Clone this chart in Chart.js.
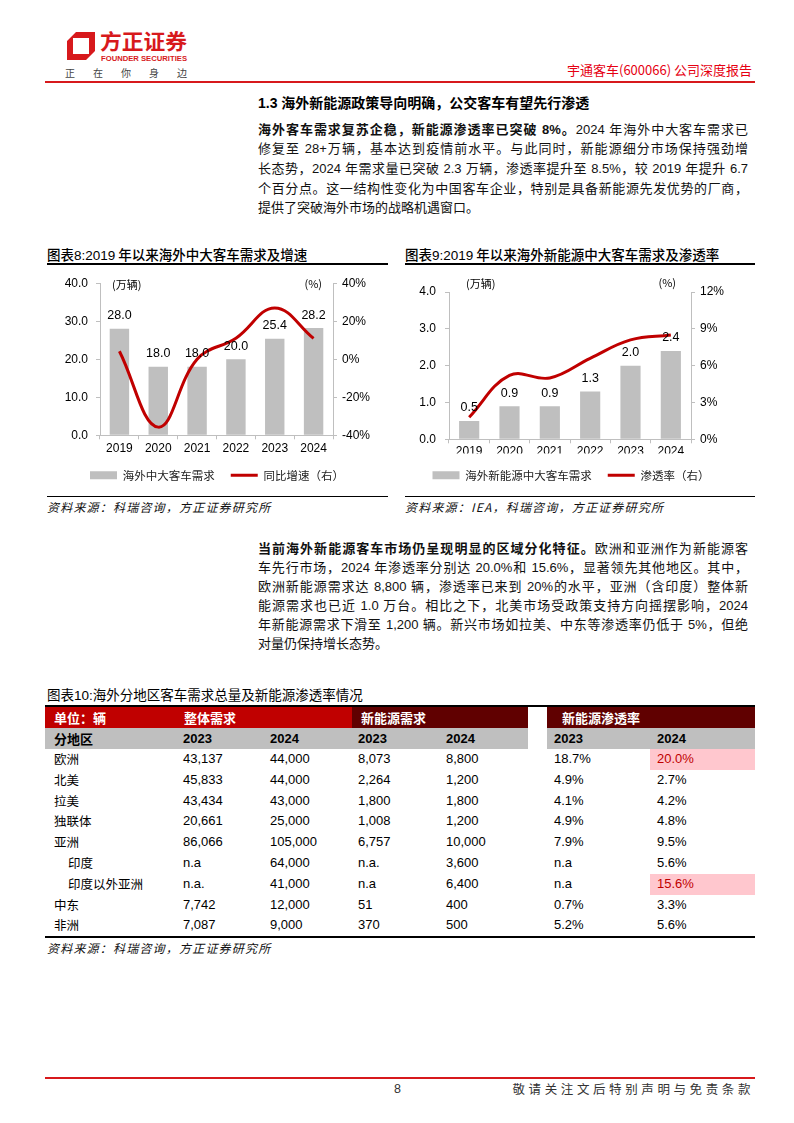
<!DOCTYPE html>
<html lang="zh-CN">
<head>
<meta charset="utf-8">
<title>宇通客车(600066) 公司深度报告</title>
<script src="https://cdn.jsdelivr.net/npm/chart.js@4.4.1/dist/chart.umd.min.js"></script>
<style>
  html, body { margin: 0; padding: 0; background: #fff; }
  #page { position: relative; width: 794px; height: 1123px; overflow: hidden;
    font-family: "Liberation Sans", Arial, "Noto Sans CJK SC", sans-serif; color: #111; }
  .abs { position: absolute; white-space: nowrap; }
  .rule { position: absolute; }
  .para { position: absolute; left: 258px; width: 490px; height: 19.5px; line-height: 19.5px;
    font-size: 13px; text-align: justify; text-align-last: justify; overflow: hidden; }
  .para.last { text-align-last: left; }
  .para b { font-weight: bold; }
  .ctitle { font-family: "Noto Sans CJK SC", sans-serif; font-size: 13.5px; font-weight: 500;
    height: 20px; line-height: 20px; color: #000; }
  .ctitle span { font-family: "Liberation Sans", Arial, sans-serif; }
  .src { font-family: "Noto Sans CJK SC", sans-serif; font-size: 12px; font-style: italic;
    letter-spacing: 1.2px; height: 18px; line-height: 18px; color: #111; }
  canvas { position: absolute; }
</style>
</head>
<body>
<div id="page">
  <!-- header -->
  <svg class="abs" style="left:0;top:0" width="794" height="90">
    <path d="M76 32 H95 V51 L86 60 H67 V41 Z M73 38 V54 H89 V38 Z" fill="#d7191c" fill-rule="evenodd"/>
    <text x="100" y="49" font-size="21" font-weight="bold" fill="#d7191c" textLength="87" lengthAdjust="spacingAndGlyphs" font-family="Noto Sans CJK SC">方正证券</text>
    <text x="101" y="61" font-size="8" font-weight="bold" fill="#d7191c" textLength="86" lengthAdjust="spacingAndGlyphs" font-family="Liberation Sans">FOUNDER SECURITIES</text>
    <text x="65" y="77" font-size="10" fill="#444" textLength="122" font-family="Noto Sans CJK SC">正在你身边</text>
  </svg>
  <div class="abs" style="right:42px;top:61px;height:18px;line-height:18px;font-size:13px;color:#e60012;font-family:'Noto Sans CJK SC',sans-serif;">宇通客车(600066) 公司深度报告</div>
  <div class="rule" style="left:45px;top:81px;width:710px;height:1.5px;background:#d7191c;"></div>

  <!-- section 1.3 -->
  <div class="abs" style="left:258px;top:93px;height:20px;line-height:20px;font-size:14px;font-weight:bold;color:#000;">1.3 海外新能源政策导向明确，公交客车有望先行渗透</div>
  <div class="para" style="top:119.75px"><b>海外客车需求复苏企稳，新能源渗透率已突破 8%。</b>2024 年海外中大客车需求已</div>
  <div class="para" style="top:139.35px">修复至 28+万辆，基本达到疫情前水平。与此同时，新能源细分市场保持强劲增</div>
  <div class="para" style="top:158.95px">长态势，2024 年需求量已突破 2.3 万辆，渗透率提升至 8.5%，较 2019 年提升 6.7</div>
  <div class="para" style="top:178.55px">个百分点。这一结构性变化为中国客车企业，特别是具备新能源先发优势的厂商，</div>
  <div class="para last" style="top:198.15px">提供了突破海外市场的战略机遇窗口。</div>

  <!-- chart titles -->
  <div class="abs ctitle" style="left:47px;top:244px;">图表<span>8:2019</span> 年以来海外中大客车需求及增速</div>
  <div class="rule" style="left:47px;top:263px;width:341px;height:2px;background:#000;"></div>
  <div class="abs ctitle" style="left:405px;top:244px;">图表<span>9:2019</span> 年以来海外新能源中大客车需求及渗透率</div>
  <div class="rule" style="left:405px;top:263px;width:350px;height:2px;background:#000;"></div>

  <canvas id="chart8" width="343" height="223" style="left:47px;top:268px;"></canvas>
  <canvas id="chart9" width="350" height="223" style="left:405px;top:268px;"></canvas>

  <div class="rule" style="left:47px;top:495.5px;width:341px;height:1.3px;background:#000;"></div>
  <div class="rule" style="left:405px;top:495.5px;width:350px;height:1.3px;background:#000;"></div>
  <div class="abs src" style="left:47px;top:498px;">资料来源：科瑞咨询，方正证券研究所</div>
  <div class="abs src" style="left:405px;top:498px;">资料来源：IEA，科瑞咨询，方正证券研究所</div>

  <!-- second paragraph -->
  <div class="para" style="top:539.25px"><b>当前海外新能源客车市场仍呈现明显的区域分化特征。</b>欧洲和亚洲作为新能源客</div>
  <div class="para" style="top:558.25px">车先行市场，2024 年渗透率分别达 20.0%和 15.6%，显著领先其他地区。其中，</div>
  <div class="para" style="top:577.25px">欧洲新能源需求达 8,800 辆，渗透率已来到 20%的水平，亚洲（含印度）整体新</div>
  <div class="para" style="top:596.25px">能源需求也已近 1.0 万台。相比之下，北美市场受政策支持方向摇摆影响，2024</div>
  <div class="para" style="top:615.25px">年新能源需求下滑至 1,200 辆。新兴市场如拉美、中东等渗透率仍低于 5%，但绝</div>
  <div class="para last" style="top:634.25px">对量仍保持增长态势。</div>

  <!-- table 10 -->
  <div class="abs ctitle" style="left:47px;top:684px;font-weight:normal;">图表<span>10:</span>海外分地区客车需求总量及新能源渗透率情况</div>
  <div class="abs src" style="left:47px;top:939px;">资料来源：科瑞咨询，方正证券研究所</div>

  <!-- footer -->
  <div class="rule" style="left:45px;top:1077px;width:710px;height:1.5px;background:#d7191c;"></div>
  <div class="abs" style="left:394px;top:1080px;height:18px;line-height:18px;font-size:12.5px;color:#333;">8</div>
  <div class="abs" style="right:40px;top:1080px;height:18px;line-height:18px;font-size:12.5px;letter-spacing:3.6px;color:#333;font-family:'Noto Sans CJK SC',sans-serif;">敬请关注文后特别声明与免责条款</div>
</div>

<script>
// chart 8 / chart 9 values (万辆, %)
var years = ["2019", "2020", "2021", "2022", "2023", "2024"];
var busDemand = [28.0, 18.0, 18.0, 20.0, 25.4, 28.2];
var busGrowth = [4.2, -35.7, 0.0, 11.1, 27.0, 11.0];
var nevDemand = [0.5, 0.9, 0.9, 1.3, 2.0, 2.4];
var nevShare = [1.8, 5.2, 5.0, 6.6, 8.1, 8.5];

// table 10
var regions = ["欧洲", "北美", "拉美", "独联体", "亚洲", "印度", "印度以外亚洲", "中东", "非洲"];
var subRegion = [false, false, false, false, false, true, true, false, false];
var total2023 = ["43,137", "45,833", "43,434", "20,661", "86,066", "n.a", "n.a.", "7,742", "7,087"];
var total2024 = ["44,000", "44,000", "43,000", "25,000", "105,000", "64,000", "41,000", "12,000", "9,000"];
var nev2023 = ["8,073", "2,264", "1,800", "1,008", "6,757", "n.a.", "n.a", "51", "370"];
var nev2024 = ["8,800", "1,200", "1,800", "1,200", "10,000", "3,600", "6,400", "400", "500"];
var share2023 = ["18.7%", "4.9%", "4.1%", "4.9%", "7.9%", "n.a", "n.a", "0.7%", "5.2%"];
var share2024 = ["20.0%", "2.7%", "4.2%", "4.8%", "9.5%", "5.6%", "15.6%", "3.3%", "5.6%"];
var highlight = [true, false, false, false, false, false, true, false, false];

(function() {

  "use strict";

  var page = document.getElementById("page");
  var cjk = '"Noto Sans CJK SC", sans-serif';

  function box(x, top, w, h, color) {
    var d = document.createElement("div");
    d.className = "rule";
    d.style.cssText = "left:" + x + "px;top:" + top + "px;width:" + w + "px;height:" + h + "px;background:" + color + ";";
    page.appendChild(d);
  }

  function text(t, x, top, h, css) {
    var d = document.createElement("div");
    d.className = "abs";
    d.style.cssText = "left:" + x + "px;top:" + top + "px;height:" + h + "px;line-height:" + h + "px;font-size:13px;color:#000;" + (css || "");
    d.textContent = t;
    page.appendChild(d);
  }

  // table layout
  var colX = [54, 183, 270, 358, 446, 554, 657];
  var headTop = 707, headH = 21, rowTop = 749, rowH = 20.8;

  box(45, 705, 710, 2, "#000");
  box(45, headTop, 307, headH, "#c00000");
  box(352, headTop, 176, headH, "#600000");
  box(547, headTop, 208, headH, "#600000");
  text("单位：辆", 54, headTop, headH, "color:#fff;font-weight:bold;font-family:" + cjk);
  text("整体需求", 184, headTop, headH, "color:#fff;font-weight:bold;font-family:" + cjk);
  text("新能源需求", 361, headTop, headH, "color:#fff;font-weight:bold;font-family:" + cjk);
  text("新能源渗透率", 562, headTop, headH, "color:#fff;font-weight:bold;font-family:" + cjk);

  box(45, headTop + headH, 483, headH, "#bfbfbf");
  box(547, headTop + headH, 208, headH, "#bfbfbf");
  text("分地区", 54, headTop + headH, headH, "font-weight:bold;font-family:" + cjk);
  ["2023", "2024", "2023", "2024", "2023", "2024"].forEach(function(y, i) {
    text(y, colX[i + 1], headTop + headH, headH, "font-weight:bold;");
  });

  regions.forEach(function(r, i) {
    var top = rowTop + rowH * i;
    if (highlight[i]) box(650, top, 105, rowH, "#ffc7ce");
    text(r, subRegion[i] ? 68 : 54, top, rowH, "font-size:12.5px;font-family:" + cjk);
    var vals = [total2023[i], total2024[i], nev2023[i], nev2024[i], share2023[i], share2024[i]];
    vals.forEach(function(v, j) {
      text(v, colX[j + 1], top, rowH, (j === 5 && highlight[i]) ? "color:#c00000;" : "");
    });
  });
  box(45, rowTop + rowH * regions.length, 710, 2.2, "#000");

  // charts
  Chart.defaults.font.family = '"Liberation Sans", Arial, sans-serif';
  Chart.defaults.font.size = 12;
  Chart.defaults.color = "#000";

  var barLabels = {
    id: "barLabels",
    afterDatasetsDraw: function(chart, args, opts) {
      var ctx = chart.ctx;
      var area = chart.chartArea;
      var meta = chart.getDatasetMeta(0);
      var values = chart.data.datasets[0].data;
      ctx.save();
      ctx.fillStyle = "#000";
      ctx.font = '12.5px "Liberation Sans", Arial, sans-serif';
      ctx.textAlign = "center";
      ctx.textBaseline = "middle";
      meta.data.forEach(function(bar, i) {
        ctx.fillText(values[i].toFixed(1), bar.x, bar.y - 13);
      });
      ctx.font = '11px "Noto Sans CJK SC", sans-serif';
      ctx.textAlign = "left";
      ctx.fillText(opts.left, area.left + opts.lx, area.top + opts.ly);
      ctx.textAlign = "right";
      ctx.fillText(opts.right, area.right + opts.rx, area.top + opts.ry);
      ctx.restore();
    }
  };

  function axisGrid() {
    return { drawOnChartArea: false, tickLength: 4, color: "#bfbfbf" };
  }

  var legendOpts = {
    position: "bottom",
    labels: {
      usePointStyle: true,
      pointStyleWidth: 27,
      boxHeight: 8,
      padding: 16,
      color: "#222",
      font: { family: '"Noto Sans CJK SC", sans-serif', size: 11.5 },
      sort: function(a, b) { return a.datasetIndex - b.datasetIndex; }
    }
  };

  var busChart = new Chart(document.getElementById("chart8"), {
    type: "bar",
    data: {
      labels: years,
      datasets: [
        {
          type: "bar",
          label: "海外中大客车需求",
          data: busDemand,
          backgroundColor: "#bfbfbf",
          pointStyle: "rect",
          barPercentage: 0.5,
          categoryPercentage: 1,
          yAxisID: "y",
          order: 1
        }, {
          type: "line",
          label: "同比增速（右）",
          data: busGrowth,
          borderColor: "#c00000",
          backgroundColor: "#c00000",
          borderWidth: 3,
          pointRadius: 0,
          pointStyle: "line",
          tension: 0.4,
          yAxisID: "y1",
          order: 0
        }
      ]
    },
    options: {
      responsive: false,
      animation: false,
      layout: { padding: { top: 14.7, right: 3, bottom: 0, left: 0 } },
      plugins: {
        legend: legendOpts,
        tooltip: { enabled: false },
        barLabels: { left: "(万辆)", lx: 12, ly: 1.5, right: "(%)", rx: -11, ry: 0.5 }
      },
      scales: {
        x: {
          grid: axisGrid(),
          border: { color: "#bfbfbf" },
          ticks: { padding: 2.5 },
          afterFit: function(s) { s.height = 18.2; }
        },
        y: {
          position: "left",
          min: 0,
          max: 40,
          grid: axisGrid(),
          border: { color: "#bfbfbf" },
          ticks: { stepSize: 10, padding: 8, callback: function(v) { return v.toFixed(1); } },
          afterFit: function(s) { s.width = 53; }
        },
        y1: {
          position: "right",
          min: -40,
          max: 40,
          grid: axisGrid(),
          border: { color: "#bfbfbf" },
          ticks: { stepSize: 20, padding: 5, callback: function(v) { return v + "%"; } },
          afterFit: function(s) { s.width = 54; }
        }
      }
    },
    plugins: [barLabels]
  });

  var nevChart = new Chart(document.getElementById("chart9"), {
    type: "bar",
    data: {
      labels: years,
      datasets: [
        {
          type: "bar",
          label: "海外新能源中大客车需求",
          data: nevDemand,
          backgroundColor: "#bfbfbf",
          pointStyle: "rect",
          barPercentage: 0.5,
          categoryPercentage: 1,
          yAxisID: "y",
          order: 1
        }, {
          type: "line",
          label: "渗透率（右）",
          data: nevShare,
          borderColor: "#c00000",
          backgroundColor: "#c00000",
          borderWidth: 3,
          pointRadius: 0,
          pointStyle: "line",
          tension: 0.4,
          yAxisID: "y1",
          order: 0
        }
      ]
    },
    options: {
      responsive: false,
      animation: false,
      layout: { padding: { top: 24, right: 18, bottom: 0, left: 0 } },
      plugins: {
        legend: legendOpts,
        tooltip: { enabled: false },
        barLabels: { left: "(万辆)", lx: 17, ly: -8, right: "(%)", rx: -15, ry: -9 }
      },
      scales: {
        x: {
          grid: axisGrid(),
          border: { color: "#bfbfbf" },
          ticks: { padding: 1.5 },
          afterFit: function(s) { s.height = 14.2; }
        },
        y: {
          position: "left",
          min: 0,
          max: 4,
          grid: axisGrid(),
          border: { color: "#bfbfbf" },
          ticks: { stepSize: 1, padding: 9, callback: function(v) { return v.toFixed(1); } },
          afterFit: function(s) { s.width = 44; }
        },
        y1: {
          position: "right",
          min: 0,
          max: 12,
          grid: axisGrid(),
          border: { color: "#bfbfbf" },
          ticks: { stepSize: 3, padding: 5, callback: function(v) { return v + "%"; } },
          afterFit: function(s) { s.width = 46; }
        }
      }
    },
    plugins: [barLabels]
  });

})();
</script>
</body>
</html>
